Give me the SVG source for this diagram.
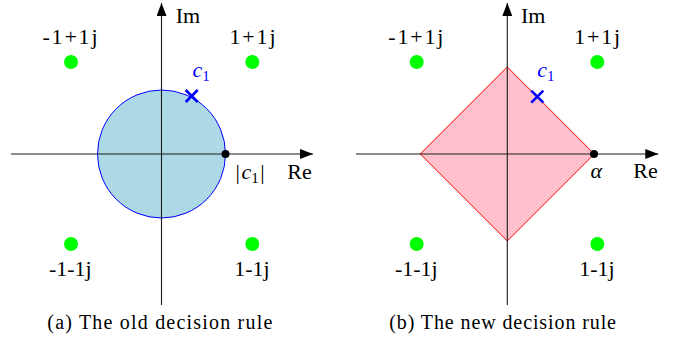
<svg xmlns="http://www.w3.org/2000/svg" width="681" height="347" viewBox="0 0 681 347" font-family="'Liberation Serif', serif">
<defs>
<style>
text{font-family:'Liberation Serif', serif;fill:#000}
.lbl{font-size:22px;text-anchor:middle}
.cap{font-size:20px}
.ax{stroke:#1a1a1a;stroke-width:1.1;fill:none}
.pt{fill:#00ff00}
.mk{stroke:#0000ff;stroke-width:2.6;fill:none}
.blue{fill:#0000ff}
.it{font-style:italic}
</style>
<marker id="arr" markerUnits="userSpaceOnUse" markerWidth="14" markerHeight="10" refX="13" refY="5" orient="auto">
<path d="M0,0 L13,5 L0,10 z" fill="#000"/>
</marker>
</defs>
<rect width="681" height="347" fill="#fff"/>

<!-- Left panel -->
<g id="circle-region">
<circle cx="161.5" cy="154" r="64" fill="#add8e6" stroke="#0000ff" stroke-width="1"/>
</g>
<g id="connectors-left">
<line class="ax" x1="11" y1="154" x2="313" y2="154" marker-end="url(#arr)"/>
<line class="ax" x1="161.5" y1="305" x2="161.5" y2="3" marker-end="url(#arr)"/>
</g>
<g id="pt-l-pp"><circle class="pt" cx="71" cy="62" r="7"/><text class="lbl" x="70" y="44" textLength="55" lengthAdjust="spacing">-1+1j</text></g>
<g id="pt-l-mp"><circle class="pt" cx="252.3" cy="62" r="7"/><text class="lbl" x="252.5" y="44" textLength="46" lengthAdjust="spacing">1+1j</text></g>
<g id="pt-l-pm"><circle class="pt" cx="71" cy="244" r="7"/><text class="lbl" x="70.3" y="276">-1-1j</text></g>
<g id="pt-l-mm"><circle class="pt" cx="252.3" cy="244" r="7"/><text class="lbl" x="252" y="276">1-1j</text></g>
<g id="c1-left">
<path class="mk" d="M185.7,90 L197.7,102 M197.7,90 L185.7,102"/>
<text x="192.5" y="77.3" font-size="22" class="blue it">c<tspan font-size="15" dy="3.5" font-style="normal">1</tspan></text>
</g>
<g id="mag-left">
<circle cx="225.5" cy="154" r="4" fill="#000"/>
<text x="235.5" y="179" font-size="22">|<tspan class="it" dx="1.5">c</tspan><tspan font-size="15" dy="3.5">1</tspan><tspan dy="-3.5" dx="1.5">|</tspan></text>
</g>
<text x="287.3" y="179" font-size="22">Re</text>
<text x="175.7" y="22.7" font-size="22">Im</text>
<text class="cap" x="47.3" y="329" textLength="225" lengthAdjust="spacing">(a) The old decision rule</text>

<!-- Right panel -->
<g id="diamond-region">
<polygon points="420.3,154 507.3,67 594.3,154 507.3,241" fill="#ffc0cb" stroke="#ff0000" stroke-width="1"/>
</g>
<g id="connectors-right">
<line class="ax" x1="356" y1="154" x2="658.3" y2="154" marker-end="url(#arr)"/>
<line class="ax" x1="507.3" y1="305" x2="507.3" y2="3" marker-end="url(#arr)"/>
</g>
<g id="pt-r-pp"><circle class="pt" cx="416.7" cy="62" r="7"/><text class="lbl" x="415.8" y="44" textLength="55" lengthAdjust="spacing">-1+1j</text></g>
<g id="pt-r-mp"><circle class="pt" cx="597.3" cy="62" r="7"/><text class="lbl" x="597.2" y="44" textLength="46" lengthAdjust="spacing">1+1j</text></g>
<g id="pt-r-pm"><circle class="pt" cx="416.7" cy="244" r="7"/><text class="lbl" x="416.3" y="276">-1-1j</text></g>
<g id="pt-r-mm"><circle class="pt" cx="597.3" cy="244" r="7"/><text class="lbl" x="597" y="276">1-1j</text></g>
<g id="c1-right">
<path class="mk" d="M531.3,90.7 L543.3,102.7 M543.3,90.7 L531.3,102.7"/>
<text x="537.3" y="77.3" font-size="22" class="blue it">c<tspan font-size="15" dy="3.5" font-style="normal">1</tspan></text>
</g>
<g id="alpha-right">
<circle cx="594" cy="154" r="4" fill="#000"/>
<text x="590.5" y="178.3" font-size="22" class="it">α</text>
</g>
<text x="633.3" y="178.3" font-size="22">Re</text>
<text x="521" y="22.7" font-size="22">Im</text>
<text class="cap" x="389.3" y="329" textLength="226.7" lengthAdjust="spacing">(b) The new decision rule</text>
</svg>
